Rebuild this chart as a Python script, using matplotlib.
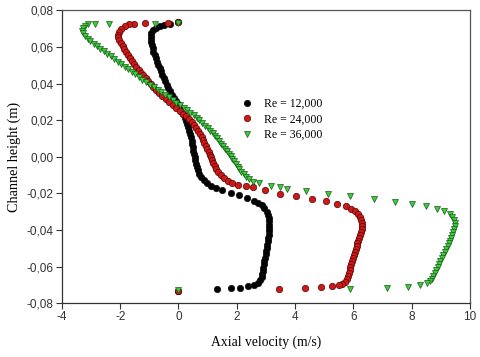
import matplotlib
matplotlib.use("Agg")
import matplotlib.pyplot as plt
from matplotlib.ticker import FuncFormatter, FixedLocator
from matplotlib.lines import Line2D

# ---- data (u in m/s, y in m) ----
labels = ["Re = 12,000", "Re = 24,000", "Re = 36,000"]

u_re12 = [0.00, -0.30, -0.50, -0.65, -0.78, -0.87, -0.93, -0.96, -0.96, -0.94, -0.92, -0.89, -0.86,
          -0.82, -0.78, -0.74, -0.70, -0.65, -0.60, -0.55, -0.50, -0.45, -0.40, -0.35, -0.29,
          -0.23, -0.17, -0.10, -0.03, 0.04, 0.10, 0.16, 0.21, 0.26, 0.30, 0.34, 0.37, 0.40,
          0.43, 0.45, 0.47, 0.49, 0.51, 0.53, 0.55, 0.57, 0.59, 0.62, 0.66, 0.71, 0.78, 0.87,
          0.98, 1.12, 1.28, 1.51, 1.79, 2.07, 2.36, 2.58, 2.74, 2.86, 2.95, 3.02, 3.07, 3.10,
          3.12, 3.12, 3.11, 3.10, 3.09, 3.07, 3.06, 3.04, 3.03, 3.01, 2.99, 2.97, 2.95, 2.93,
          2.91, 2.89, 2.87, 2.85, 2.80, 2.72, 2.60, 2.39, 2.11, 1.79, 1.31, 0.00]
y_re12 = [0.0735, 0.0728, 0.0722, 0.0714, 0.0704, 0.0692, 0.0678, 0.0662, 0.0645, 0.0628, 0.0610,
          0.0592, 0.0574, 0.0556, 0.0538, 0.0520, 0.0502, 0.0484, 0.0466, 0.0448, 0.0430, 0.0412,
          0.0394, 0.0376, 0.0358, 0.0340, 0.0322, 0.0304, 0.0286, 0.0268, 0.0250, 0.0232, 0.0214,
          0.0196, 0.0178, 0.0160, 0.0142, 0.0124, 0.0106, 0.0088, 0.0070, 0.0052, 0.0034, 0.0016,
          -0.0002, -0.0020, -0.0038, -0.0056, -0.0074, -0.0092, -0.0110, -0.0127, -0.0143,
          -0.0158, -0.0170, -0.0184, -0.0197, -0.0209, -0.0224, -0.0240, -0.0252, -0.0266,
          -0.0282, -0.0300, -0.0318, -0.0336, -0.0354, -0.0372, -0.0390, -0.0408, -0.0426,
          -0.0444, -0.0462, -0.0480, -0.0498, -0.0516, -0.0534, -0.0552, -0.0570, -0.0588,
          -0.0606, -0.0624, -0.0642, -0.0658, -0.0674, -0.0688, -0.0700, -0.0709, -0.0715,
          -0.0719, -0.0723, -0.0735]

u_re24 = [0.00, -0.36, -1.14, -1.54, -1.70, -1.85, -1.97, -2.05, -2.08, -2.07, -2.03, -1.98, -1.92,
          -1.86, -1.80, -1.73, -1.66, -1.59, -1.52, -1.45, -1.37, -1.29, -1.21, -1.12, -1.04,
          -0.95, -0.86, -0.76, -0.66, -0.55, -0.44, -0.32, -0.20, -0.08, 0.04, 0.15, 0.26, 0.36,
          0.45, 0.53, 0.60, 0.67, 0.73, 0.79, 0.84, 0.89, 0.94, 0.99, 1.03, 1.07, 1.11, 1.15,
          1.19, 1.24, 1.30, 1.37, 1.46, 1.57, 1.70, 1.84, 2.05, 2.30, 2.55, 2.97, 3.48, 4.03,
          4.57, 5.05, 5.45, 5.74, 5.92, 6.05, 6.15, 6.22, 6.27, 6.29, 6.29, 6.28, 6.26, 6.23,
          6.20, 6.17, 6.14, 6.11, 6.08, 6.05, 6.02, 5.99, 5.96, 5.93, 5.90, 5.87, 5.84, 5.81,
          5.78, 5.72, 5.62, 5.50, 5.27, 4.90, 4.34, 3.45, 0.00]
y_re24 = [0.0735, 0.0733, 0.0733, 0.0726, 0.0724, 0.0714, 0.0700, 0.0684, 0.0668, 0.0652, 0.0636,
          0.0620, 0.0604, 0.0588, 0.0572, 0.0556, 0.0540, 0.0524, 0.0508, 0.0492, 0.0476, 0.0460,
          0.0444, 0.0428, 0.0412, 0.0396, 0.0380, 0.0364, 0.0348, 0.0332, 0.0316, 0.0300, 0.0284,
          0.0268, 0.0252, 0.0236, 0.0220, 0.0204, 0.0188, 0.0172, 0.0156, 0.0140, 0.0124, 0.0108,
          0.0092, 0.0076, 0.0060, 0.0044, 0.0028, 0.0012, -0.0004, -0.0020, -0.0036, -0.0052,
          -0.0068, -0.0084, -0.0100, -0.0116, -0.0131, -0.0143, -0.0153, -0.0160, -0.0168,
          -0.0184, -0.0202, -0.0213, -0.0231, -0.0244, -0.0257, -0.0271, -0.0284, -0.0298,
          -0.0314, -0.0330, -0.0346, -0.0362, -0.0378, -0.0394, -0.0410, -0.0426, -0.0442,
          -0.0458, -0.0474, -0.0490, -0.0506, -0.0522, -0.0538, -0.0554, -0.0570, -0.0586,
          -0.0602, -0.0618, -0.0634, -0.0650, -0.0666, -0.0682, -0.0694, -0.0702, -0.0708,
          -0.0712, -0.0717, -0.0721, -0.0735]

u_re36 = [0.00, -0.80, -2.40, -2.88, -3.10, -3.22, -3.29, -3.30, -3.26, -3.20, -3.12, -3.02, -2.91,
          -2.80, -2.68, -2.56, -2.44, -2.32, -2.20, -2.08, -1.96, -1.84, -1.72, -1.60, -1.48,
          -1.36, -1.24, -1.11, -0.98, -0.85, -0.72, -0.59, -0.46, -0.33, -0.20, -0.07, 0.06, 0.18,
          0.30, 0.41, 0.52, 0.62, 0.72, 0.82, 0.91, 1.00, 1.09, 1.17, 1.25, 1.33, 1.40, 1.47,
          1.54, 1.61, 1.67, 1.73, 1.79, 1.85, 1.91, 1.97, 2.03, 2.09, 2.16, 2.24, 2.33, 2.43,
          2.55, 2.77, 3.19, 3.50, 3.71, 4.37, 5.14, 5.90, 6.71, 7.43, 8.02, 8.49, 8.86, 9.12,
          9.30, 9.40, 9.46, 9.48, 9.48, 9.46, 9.43, 9.40, 9.36, 9.32, 9.28, 9.24, 9.19, 9.14,
          9.09, 9.04, 8.99, 8.94, 8.89, 8.84, 8.79, 8.74, 8.69, 8.62, 8.52, 8.30, 7.88, 7.14,
          5.90, 0.00]
y_re36 = [0.0730, 0.0726, 0.0726, 0.0724, 0.0724, 0.0714, 0.0702, 0.0688, 0.0674, 0.0660, 0.0646,
          0.0632, 0.0618, 0.0604, 0.0590, 0.0576, 0.0562, 0.0548, 0.0534, 0.0520, 0.0506, 0.0492,
          0.0478, 0.0464, 0.0450, 0.0436, 0.0422, 0.0408, 0.0394, 0.0380, 0.0366, 0.0352, 0.0338,
          0.0324, 0.0310, 0.0296, 0.0282, 0.0268, 0.0254, 0.0240, 0.0226, 0.0212, 0.0198, 0.0184,
          0.0170, 0.0156, 0.0142, 0.0128, 0.0114, 0.0100, 0.0086, 0.0072, 0.0058, 0.0044, 0.0030,
          0.0016, 0.0002, -0.0012, -0.0026, -0.0040, -0.0054, -0.0068, -0.0082, -0.0096, -0.0110,
          -0.0124, -0.0136, -0.0146, -0.0158, -0.0166, -0.0174, -0.0190, -0.0202, -0.0213,
          -0.0231, -0.0246, -0.0257, -0.0271, -0.0286, -0.0299, -0.0314, -0.0330, -0.0346,
          -0.0362, -0.0378, -0.0394, -0.0410, -0.0426, -0.0442, -0.0458, -0.0474, -0.0490,
          -0.0506, -0.0522, -0.0538, -0.0554, -0.0570, -0.0586, -0.0602, -0.0618, -0.0634,
          -0.0650, -0.0666, -0.0680, -0.0692, -0.0702, -0.0710, -0.0716, -0.0722, -0.0728]

x_ticks = [-4, -2, 0, 2, 4, 6, 8, 10]
y_ticks = [-0.08, -0.06, -0.04, -0.02, 0.00, 0.02, 0.04, 0.06, 0.08]

# ---- figure ----
fig = plt.figure(figsize=(4.8, 3.57), dpi=100)
ax = fig.add_axes([0.129, 0.151, 0.850, 0.820])

ms_c, ms_t = 4.6, 5.0
ax.plot(u_re12, y_re12, linestyle="none", marker="o", ms=ms_c, mfc="black", mec="#111111",
        mew=0.5, label=labels[0])
ax.plot(u_re24, y_re24, linestyle="none", marker="o", ms=ms_c, mfc="#cc1a1a", mec="#5a0000",
        mew=0.5, label=labels[1])
ax.plot(u_re36, y_re36, linestyle="none", marker="v", ms=ms_t, mfc="#3ccc3c", mec="#1a5a1a",
        mew=0.5, label=labels[2])

ax.set_xlim(-4, 10)
ax.set_ylim(-0.08, 0.08)
ax.xaxis.set_major_locator(FixedLocator(x_ticks))
ax.yaxis.set_major_locator(FixedLocator(y_ticks))
ax.xaxis.set_major_formatter(FuncFormatter(lambda v, p: f"{v:.0f}"))
ax.yaxis.set_major_formatter(FuncFormatter(lambda v, p: f"{v:.2f}".replace(".", ",").replace("-0,00", "0,00")))

for lab in ax.get_xticklabels() + ax.get_yticklabels():
    lab.set_fontfamily("Liberation Sans")
    lab.set_fontsize(8.5)
    lab.set_color("#333333")

ax.tick_params(axis="both", direction="out", length=4, width=0.8, color="#333333", pad=2,
               top=False, right=False)
for s in ["left", "bottom"]:
    ax.spines[s].set_color("#333333")
    ax.spines[s].set_linewidth(0.9)
for s in ["top", "right"]:
    ax.spines[s].set_color("#555555")
    ax.spines[s].set_linewidth(0.9)

ax.set_xlabel("Axial velocity (m/s)", family="Liberation Serif", fontsize=9.8, labelpad=9)
ax.set_ylabel("Channel height (m)", family="Liberation Serif", fontsize=10.2, labelpad=4)

handles = [Line2D([], [], linestyle="none", marker="o", ms=ms_c, mfc="black", mec="#111111", mew=0.5),
           Line2D([], [], linestyle="none", marker="o", ms=ms_c, mfc="#cc1a1a", mec="#5a0000", mew=0.5),
           Line2D([], [], linestyle="none", marker="v", ms=ms_t, mfc="#3ccc3c", mec="#1a5a1a", mew=0.5)]
ax.legend(handles, labels, loc="center left", bbox_to_anchor=(0.425, 0.627), frameon=False,
          prop={"family": "Liberation Serif", "size": 8.5}, handlelength=1.0,
          handletextpad=0.9, labelspacing=0.3, borderpad=0.0)

fig.savefig("out.png", dpi=100)
